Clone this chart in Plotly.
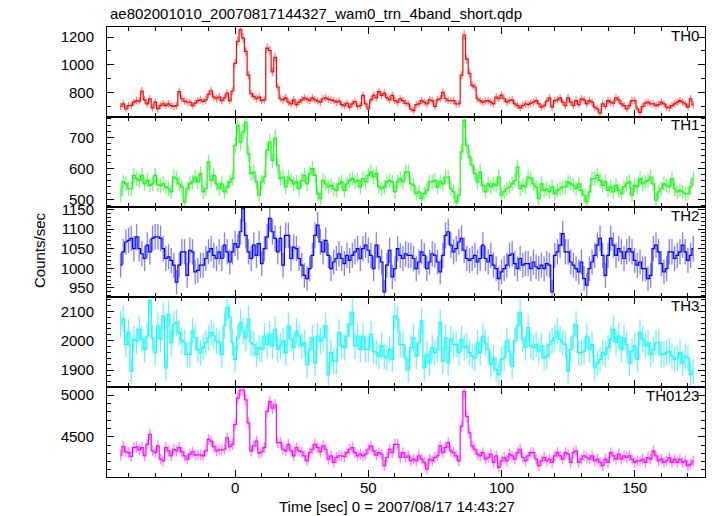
import numpy as np
import plotly.graph_objects as go

# ---------------- data (1-s bins, count rate in counts/sec) ----------------
TIME_START = -43  # centre of first 1-s bin [sec]

TH0 = [698, 717, 680, 705, 705, 729, 741, 737, 810, 746,
       717, 754, 688, 729, 680, 705, 717, 705, 717, 705,
       698, 705, 805, 754, 737, 729, 729, 705, 722, 741,
       746, 734, 746, 785, 812, 766, 754, 766, 741, 761,
       795, 741, 810, 1010, 1169, 1255, 1193, 1096, 925, 790,
       771, 754, 766, 741, 746, 1120, 1103, 949, 1054, 839,
       754, 746, 761, 729, 717, 746, 712, 729, 746, 761,
       751, 741, 761, 746, 737, 729, 754, 761, 751, 746,
       741, 729, 737, 712, 705, 722, 693, 717, 734, 698,
       705, 778, 717, 680, 746, 778, 761, 805, 778, 795,
       761, 746, 778, 741, 729, 754, 741, 722, 717, 680,
       668, 712, 717, 741, 729, 717, 746, 741, 698, 746,
       754, 800, 754, 741, 741, 741, 717, 717, 925, 1215,
       1040, 937, 851, 839, 754, 741, 729, 737, 741, 729,
       717, 766, 754, 780, 754, 729, 741, 746, 717, 705,
       688, 705, 717, 712, 722, 729, 741, 717, 693, 702,
       737, 761, 693, 741, 746, 761, 729, 705, 760, 729,
       705, 741, 712, 754, 746, 717, 741, 729, 693, 680,
       649, 717, 698, 741, 729, 722, 761, 746, 717, 705,
       680, 705, 741, 741, 680, 656, 698, 722, 729, 717,
       717, 705, 712, 729, 717, 693, 688, 705, 717, 729,
       741, 729, 717, 693, 754, 710]

TH1 = [513, 556, 550, 534, 534, 577, 567, 561, 577, 550,
       561, 545, 550, 577, 547, 545, 550, 540, 534, 524,
       572, 567, 550, 540, 491, 534, 550, 556, 572, 556,
       583, 524, 534, 620, 561, 577, 550, 534, 550, 524,
       540, 556, 567, 674, 739, 685, 717, 749, 647, 583,
       588, 556, 513, 556, 572, 658, 685, 626, 698, 610,
       567, 572, 540, 572, 561, 550, 556, 534, 561, 577,
       550, 583, 599, 577, 518, 502, 561, 550, 540, 545,
       534, 529, 550, 556, 529, 550, 561, 567, 556, 561,
       540, 567, 556, 577, 588, 572, 583, 540, 534, 540,
       556, 561, 556, 524, 556, 567, 556, 588, 588, 550,
       545, 518, 524, 502, 518, 529, 556, 556, 561, 540,
       556, 550, 572, 572, 534, 524, 491, 513, 653, 755,
       674, 636, 610, 583, 556, 588, 545, 524, 550, 540,
       550, 545, 572, 513, 524, 534, 540, 550, 561, 604,
       534, 545, 540, 572, 567, 550, 540, 502, 550, 529,
       534, 524, 540, 518, 529, 534, 540, 540, 556, 550,
       545, 534, 550, 529, 513, 491, 524, 567, 567, 577,
       561, 545, 556, 529, 540, 524, 545, 529, 518, 540,
       550, 556, 513, 545, 540, 567, 550, 556, 561, 572,
       550, 497, 524, 534, 550, 545, 540, 567, 534, 524,
       529, 524, 518, 518, 540, 567]

TH2 = [1008, 1042, 1067, 1071, 1076, 1050, 1080, 1050, 1037, 1025,
       1059, 1042, 1076, 1080, 1080, 1076, 1050, 1025, 1029, 1020,
       1008, 965, 1008, 1042, 1042, 982, 1046, 1042, 991, 995,
       1008, 1008, 1025, 1042, 1050, 1033, 1025, 1042, 1025, 1059,
       1042, 1016, 1042, 1063, 1054, 1093, 1152, 1084, 1042, 1025,
       1059, 1033, 1063, 1012, 1050, 1080, 1127, 1093, 1076, 1042,
       1076, 1008, 1084, 1084, 1025, 1054, 1050, 1025, 1008, 982,
       974, 999, 1033, 1084, 1110, 1067, 1042, 1071, 1033, 999,
       1016, 1025, 1037, 1025, 1012, 1033, 1020, 1033, 1042, 1050,
       1025, 1050, 1059, 1046, 1033, 999, 1059, 1029, 1016, 940,
       1008, 1046, 978, 999, 1050, 1033, 1025, 1037, 1033, 1033,
       1025, 999, 1016, 1042, 1033, 999, 1016, 1037, 1033, 1016,
       991, 1033, 1084, 1093, 1059, 1042, 1050, 1067, 1076, 1046,
       1025, 1020, 1025, 1033, 1016, 1025, 1059, 1025, 1016, 1033,
       1008, 999, 974, 991, 999, 1008, 1033, 1037, 1012, 999,
       1025, 1008, 1012, 1012, 999, 1016, 1004, 999, 1008, 999,
       1012, 1008, 940, 1033, 1042, 1059, 1088, 1042, 1042, 1016,
       1008, 999, 991, 1016, 974, 957, 999, 1016, 1033, 1059,
       1076, 1033, 982, 1033, 1076, 1059, 1033, 1050, 1042, 1025,
       1042, 1050, 1042, 1020, 1008, 1016, 999, 999, 974, 982,
       1050, 1059, 1042, 1012, 991, 999, 1042, 1042, 1025, 1033,
       1042, 1059, 1042, 1020, 1033, 1050]

TH3 = [2056, 2074, 1987, 2028, 1895, 2005, 1999, 2039, 2005, 1970,
       2016, 2137, 2010, 1959, 2051, 2005, 2085, 1907, 2091, 1993,
       2056, 2062, 2028, 1999, 1993, 1953, 1953, 2033, 2010, 1970,
       1959, 1976, 1993, 2010, 2028, 2016, 1999, 1993, 1953, 2051,
       2114, 2079, 1993, 1936, 2010, 2062, 2033, 2010, 2074, 1993,
       1987, 1953, 1976, 1970, 2016, 1987, 2022, 1982, 2039, 1970,
       1982, 1999, 1959, 2051, 2005, 1976, 2033, 2016, 1982, 1993,
       1918, 1970, 2010, 1924, 2016, 1999, 2010, 2051, 1884, 1959,
       1930, 1930, 2028, 1982, 1976, 2016, 2056, 2097, 1982, 2016,
       1970, 2016, 1970, 1970, 2022, 1964, 1959, 1947, 1982, 1947,
       1941, 1970, 1936, 2085, 2074, 1987, 1987, 1941, 1901, 1976,
       2010, 1947, 1993, 2068, 1907, 1953, 1924, 1976, 1959, 1970,
       2062, 1930, 2010, 1924, 2005, 1987, 1987, 1959, 2005, 1976,
       1982, 1959, 1947, 1941, 1993, 1959, 2016, 1993, 1970, 1918,
       1941, 1901, 1884, 1936, 1941, 1999, 1964, 1913, 1999, 2051,
       2097, 2005, 1976, 2045, 1982, 1976, 1987, 1964, 1982, 1941,
       1947, 1987, 1999, 2010, 2033, 2005, 1993, 1987, 1895, 1970,
       2016, 2056, 1959, 1959, 1964, 2016, 1970, 1987, 1907, 1924,
       1936, 1959, 1953, 1976, 2005, 2039, 1993, 2016, 1970, 2010,
       1987, 1924, 1964, 1982, 1936, 2028, 2005, 1982, 1993, 1953,
       1970, 1993, 1993, 1953, 1953, 1959, 1964, 1947, 1936, 1941,
       1959, 1924, 1947, 1941, 1884, 1895]

TH0123 = [4278, 4381, 4317, 4309, 4262, 4369, 4377, 4341, 4369, 4270,
          4409, 4528, 4329, 4309, 4389, 4230, 4210, 4369, 4329, 4270,
          4349, 4329, 4369, 4317, 4270, 4230, 4290, 4317, 4278, 4282,
          4282, 4270, 4329, 4468, 4448, 4381, 4329, 4341, 4341, 4349,
          4488, 4381, 4409, 4647, 4964, 5063, 5063, 4944, 4666, 4329,
          4389, 4448, 4302, 4317, 4369, 4805, 4924, 4845, 4885, 4428,
          4428, 4349, 4329, 4409, 4329, 4270, 4369, 4329, 4317, 4270,
          4210, 4309, 4349, 4409, 4369, 4317, 4389, 4349, 4230, 4270,
          4190, 4250, 4270, 4270, 4262, 4309, 4349, 4369, 4309, 4270,
          4290, 4270, 4290, 4349, 4389, 4329, 4278, 4309, 4290, 4151,
          4250, 4349, 4309, 4409, 4409, 4250, 4309, 4250, 4270, 4210,
          4230, 4210, 4270, 4230, 4190, 4111, 4230, 4210, 4250, 4270,
          4389, 4309, 4369, 4428, 4329, 4309, 4270, 4210, 4627, 5043,
          4746, 4547, 4389, 4349, 4290, 4270, 4309, 4230, 4250, 4290,
          4190, 4270, 4131, 4210, 4250, 4210, 4290, 4270, 4230, 4309,
          4349, 4250, 4210, 4270, 4309, 4309, 4230, 4151, 4210, 4250,
          4210, 4230, 4190, 4270, 4309, 4270, 4230, 4309, 4290, 4190,
          4309, 4329, 4190, 4230, 4270, 4250, 4230, 4270, 4210, 4230,
          4190, 4151, 4230, 4190, 4309, 4270, 4230, 4290, 4230, 4270,
          4250, 4270, 4230, 4190, 4210, 4210, 4230, 4190, 4250, 4230,
          4329, 4270, 4210, 4230, 4190, 4210, 4250, 4190, 4230, 4190,
          4230, 4190, 4210, 4151, 4170, 4210]

PANEL_NAMES = ["TH0", "TH1", "TH2", "TH3", "TH0123"]
SERIES = [TH0, TH1, TH2, TH3, TH0123]
COLORS = ["#ff0000", "#00ff00", "#0000ff", "#00ffff", "#ff00ff"]
ERR_COLORS = ["rgba(255,0,0,0.5)", "rgba(0,230,0,0.5)", "rgba(0,0,255,0.5)",
              "rgba(0,230,230,0.55)", "rgba(255,0,255,0.5)"]
Y_RANGES = [[622, 1273], [475, 766], [927, 1156], [1842, 2149], [4015, 5099]]
Y_DTICK = [200, 100, 50, 100, 500]
Y_MINOR = [100, 20, 10, 20, 100]
X_RANGE = [-48.1, 176.4]

TITLE = "ae802001010_20070817144327_wam0_trn_4band_short.qdp"
X_TITLE = "Time [sec] 0 = 2007/08/17 14:43:27"
Y_TITLE = "Counts/sec"

# ---------------- figure ----------------
# The page body has an 8 px margin, so the figure is sized/offset to fill
# the 717x516 window with the plot frame at x 107..705, y 27..477.
OFF = 8
WIN_W, WIN_H = 717, 516
PL, PR, PT, PB = 107, 705, 27, 477          # frame edges in window pixels
W, H = WIN_W - OFF, WIN_H - OFF
ML, MT = PL - OFF, PT - OFF
MR, MB = W + OFF - PR, H + OFF - PB
PW, PH = PR - PL, PB - PT
FONT = "Liberation Sans, Arial, Helvetica, sans-serif"


def px(xw):
    return (xw - PL) / PW


def py(yw):
    return (PB - yw) / PH


fig = go.Figure()
n = len(SERIES)
for i, (vals, col, ecol) in enumerate(zip(SERIES, COLORS, ERR_COLORS)):
    v = np.asarray(vals, dtype=float)
    t = np.arange(TIME_START, TIME_START + len(v))
    err = np.sqrt(v)  # Poisson error of a 1-s bin
    fig.add_trace(go.Scatter(
        x=t, y=v, mode="lines",
        line=dict(color=col, width=1.2, shape="hvh"),
        error_y=dict(type="data", array=err, visible=True, color=ecol,
                     thickness=1.3, width=0),
        xaxis=f"x{i+1}", yaxis=f"y{i+1}", showlegend=False,
        hoverinfo="skip"))

annotations = []
for i in range(n):
    top = 1 - i / n
    bot = 1 - (i + 1) / n
    xa = dict(domain=[0, 1], anchor=f"y{i+1}", range=X_RANGE,
              showline=True, linecolor="black", linewidth=1, mirror="allticks",
              ticks="inside", ticklen=7, tickcolor="black", tickwidth=1,
              tick0=0, dtick=50, showgrid=False, zeroline=False,
              minor=dict(dtick=10, ticklen=4, ticks="inside", tickcolor="black",
                         showgrid=False),
              showticklabels=(i == n - 1), ticklabelstandoff=-3,
              tickfont=dict(family=FONT, size=15, color="black"))
    if i > 0:
        xa["matches"] = "x"
    ya = dict(domain=[bot, top], anchor=f"x{i+1}", range=Y_RANGES[i],
              showline=True, linecolor="black", linewidth=1, mirror="allticks",
              ticks="inside", ticklen=7, tickcolor="black", tickwidth=1,
              tick0=0, dtick=Y_DTICK[i], showgrid=False, zeroline=False,
              minor=dict(dtick=Y_MINOR[i], ticklen=4, ticks="inside",
                         tickcolor="black", showgrid=False),
              ticklabelstandoff=9,
              tickfont=dict(family=FONT, size=15, color="black"))
    key = "" if i == 0 else str(i + 1)
    fig.layout["xaxis" + key] = xa
    fig.layout["yaxis" + key] = ya
    annotations.append(dict(
        text=PANEL_NAMES[i], xref="paper", yref="paper",
        x=px(PR - 4), y=top - 8 / PH, xanchor="right", yanchor="middle",
        showarrow=False, font=dict(family=FONT, size=15, color="black")))

annotations.append(dict(text=TITLE, xref="paper", yref="paper",
                        x=px(108), y=py(14), xanchor="left", yanchor="middle",
                        showarrow=False,
                        font=dict(family=FONT, size=15, color="black")))
annotations.append(dict(text=X_TITLE, xref="paper", yref="paper",
                        x=px(397), y=py(506),
                        xanchor="center", yanchor="middle", showarrow=False,
                        font=dict(family=FONT, size=15, color="black")))
annotations.append(dict(text=Y_TITLE, xref="paper", yref="paper",
                        x=px(39), y=py(250), textangle=-90,
                        xanchor="center", yanchor="middle", showarrow=False,
                        font=dict(family=FONT, size=15, color="black")))

fig.update_layout(
    width=W, height=H, autosize=False,
    margin=dict(l=ML, r=MR, t=MT, b=MB, pad=0),
    paper_bgcolor="white", plot_bgcolor="white",
    font=dict(family=FONT, size=15, color="black"),
    annotations=annotations, showlegend=False)

fig.write_html("out.html", config={"displayModeBar": False})
